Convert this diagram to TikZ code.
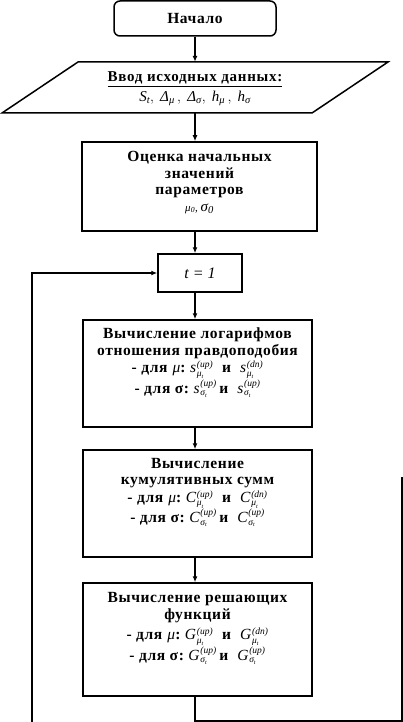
\documentclass[tikz,border=0pt]{standalone}
\usepackage{amsmath}
\usepackage{fontspec}
\setmainfont{Liberation Serif}
\usetikzlibrary{arrows.meta}
\newcommand{\vv}[1]{\textnormal{\itshape #1}}
\newcommand{\sv}[3]{$\vv{#1}\mkern1mu^{\vv{\fontsize{9.5}{9.5}\selectfont(#2)}}_{\vv{\fontsize{9.5}{9.5}\selectfont#3}_{\vv{\fontsize{6}{6}\selectfont t}}}$}
\lineskiplimit=-30pt
\lineskip=0pt
\begin{document}
\begin{tikzpicture}[x=1pt,y=-1pt,
  box/.style={draw, line width=1.5pt, inner sep=0pt},
  txt/.style={inner sep=0pt, align=center,
    font=\bfseries\fontsize{15.5}{16.5}\selectfont\addfontfeature{LetterSpace=4}},
  arr/.style={line width=1.5pt, -{Latex[length=6pt,width=5pt]}},
  ln/.style={line width=1.5pt}]
\useasboundingbox (0,0) rectangle (403,722);
\coordinate (axis) at (195,0);
\node[box, txt, rounded corners=6pt, minimum width=162, minimum height=35] (start) at (195,18.5) {Начало};
\draw[ln] (78,62) -- (388,62) -- (312,113) -- (2,113) -- cycle;
\node[inner sep=0pt, minimum width=234, minimum height=51] (in) at (195,87.5) {};
\node[txt, font=\fontsize{15}{20}\selectfont, yshift=-1pt] (intext) at (in.center)
  {\textbf{\underline{\addfontfeature{LetterSpace=5}Ввод исходных данных:}}\\
   $\vv{S}_{\vv{t}},\ \vv{Δ}_{\vv{μ}}\,,\ \vv{Δ}_{\vv{σ}},\ \vv{h}_{\vv{μ}}\,,\ \vv{h}_{\vv{σ}}$};
\node[box, minimum width=235, minimum height=89] (est) at (199.5,186.5) {};
\node[txt, yshift=4pt] (esttext) at (est.center)
  {Оценка начальных\\значений\\параметров\\ {\normalfont\itshape\fontsize{11}{12}\selectfont μ\textsubscript{0}, \fontsize{15}{16}\selectfont σ\textsubscript{0}}};
\node[box, minimum width=84, minimum height=38] (t1) at (200,273) {};
\node[inner sep=0pt, font=\itshape\fontsize{16}{16}\selectfont] (t1text) at (t1.center) {t = 1};
\node[box, minimum width=229, minimum height=107] (llr) at (197.5,373.5) {};
\node[txt, yshift=11pt] (llrtext) at (llr.center)
  {Вычисление логарифмов\\отношения правдоподобия\\[1pt]
   -\ для \vv{μ}:\ \sv{s}{up}{μ}\ \ и\ \ \sv{s}{dn}{μ}\\[4pt]
   -\ для σ:\ \sv{s}{up}{σ}\,и\ \ \sv{s}{up}{σ}};
\node[box, minimum width=229, minimum height=107] (cum) at (197.5,503.5) {};
\node[txt, yshift=11pt] (cumtext) at (cum.center)
  {Вычисление\\кумулятивных сумм\\[1pt]
   -\ для \vv{μ}:\ \sv{C}{up}{μ}\ \ и\ \ \sv{C}{dn}{μ}\\[4pt]
   -\ для σ:\ \sv{C}{up}{σ}\,и\ \ \sv{C}{up}{σ}};
\node[box, minimum width=229, minimum height=113] (dec) at (197.5,639.5) {};
\node[txt, yshift=11pt] (dectext) at (dec.center)
  {Вычисление решающих\\функций\\[4pt]
   -\ для \vv{μ}:\ \sv{G}{up}{μ}\ \ и\ \ \sv{G}{dn}{μ}\\[4pt]
   -\ для σ:\ \sv{G}{up}{σ}\,и\ \ \sv{G}{up}{σ}};
\draw[arr] (start.south -| axis) -- (in.north -| axis);
\draw[arr] (in.south -| axis) -- (est.north -| axis);
\draw[arr] (est.south -| axis) -- (t1.north -| axis);
\draw[arr] (t1.south -| axis) -- (llr.north -| axis);
\draw[arr] (llr.south -| axis) -- (cum.north -| axis);
\draw[arr] (cum.south -| axis) -- (dec.north -| axis);
\coordinate (rend) at (402,477);
\coordinate (lend) at (32,722);
\draw[ln] (dec.south -| axis) -- ++(0,24) -| (rend);
\draw[arr] (lend) |- (t1.west);
\end{tikzpicture}
\end{document}
